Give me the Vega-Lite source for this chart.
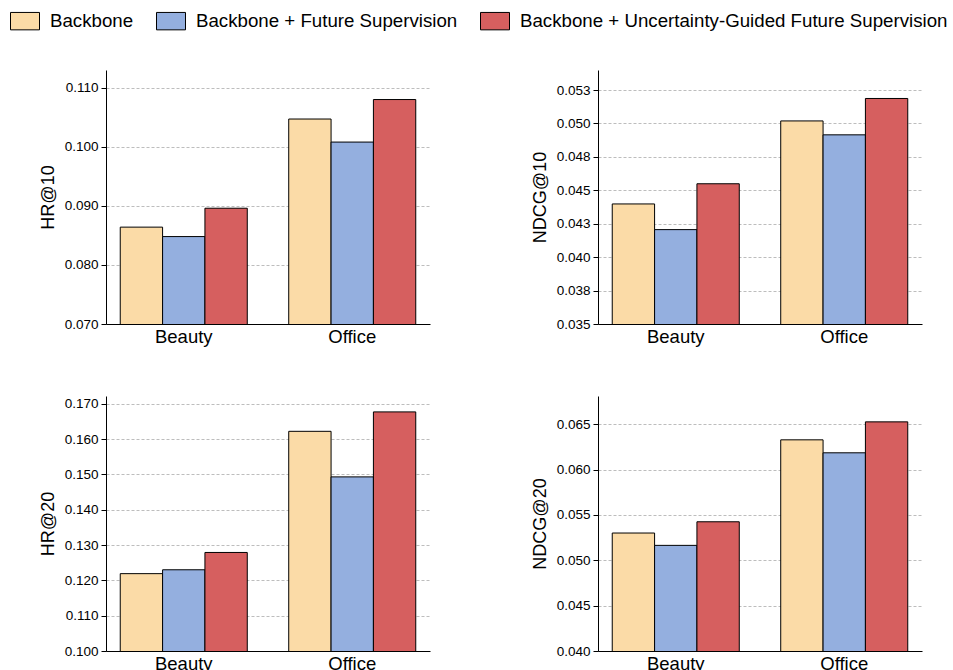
{
  "$schema": "https://vega.github.io/schema/vega-lite/v6.json",
  "background": "white",
  "padding": {"left": 10, "top": 6, "right": 5, "bottom": 5},
  "config": {
    "font": "Liberation Sans",
    "view": {"stroke": null},
    "axis": {
      "domainColor": "black",
      "domainWidth": 1,
      "tickColor": "black",
      "labelColor": "black",
      "titleColor": "black",
      "labelFont": "Liberation Sans",
      "titleFont": "Liberation Sans",
      "titleFontWeight": "normal"
    },
    "axisX": {"grid": false, "ticks": false, "labelFontSize": 18.5, "labelAngle": 0, "labelPadding": 3},
    "axisY": {"grid": true, "gridColor": "#bdbdbd", "gridDash": [3, 2], "gridWidth": 1, "tickSize": 5, "labelFontSize": 13.5, "labelPadding": 3, "titleFontSize": 18, "titlePadding": 7},
    "legend": {
      "orient": "none",
      "legendX": -96,
      "legendY": -64,
      "direction": "horizontal",
      "title": null,
      "labelFontSize": 18.7,
      "labelLimit": 0,
      "labelFont": "Liberation Sans",
      "labelColor": "black",
      "symbolType": "M-1,-0.6H1V0.6H-1Z",
      "symbolSize": 841,
      "symbolStrokeColor": "black",
      "symbolStrokeWidth": 1,
      "symbolOpacity": 1,
      "labelOffset": 10,
      "columnPadding": 20
    }
  },
  "data": {
    "values": [
      {"metric": "HR@10", "dataset": "Beauty", "method": "Backbone", "value": 0.0864},
      {"metric": "HR@10", "dataset": "Beauty", "method": "Backbone + Future Supervision", "value": 0.0848},
      {"metric": "HR@10", "dataset": "Beauty", "method": "Backbone + Uncertainty-Guided Future Supervision", "value": 0.0896},
      {"metric": "HR@10", "dataset": "Office", "method": "Backbone", "value": 0.1047},
      {"metric": "HR@10", "dataset": "Office", "method": "Backbone + Future Supervision", "value": 0.1008},
      {"metric": "HR@10", "dataset": "Office", "method": "Backbone + Uncertainty-Guided Future Supervision", "value": 0.1080},
      {"metric": "NDCG@10", "dataset": "Beauty", "method": "Backbone", "value": 0.04398},
      {"metric": "NDCG@10", "dataset": "Beauty", "method": "Backbone + Future Supervision", "value": 0.04206},
      {"metric": "NDCG@10", "dataset": "Beauty", "method": "Backbone + Uncertainty-Guided Future Supervision", "value": 0.04549},
      {"metric": "NDCG@10", "dataset": "Office", "method": "Backbone", "value": 0.05019},
      {"metric": "NDCG@10", "dataset": "Office", "method": "Backbone + Future Supervision", "value": 0.04915},
      {"metric": "NDCG@10", "dataset": "Office", "method": "Backbone + Uncertainty-Guided Future Supervision", "value": 0.05187},
      {"metric": "HR@20", "dataset": "Beauty", "method": "Backbone", "value": 0.1219},
      {"metric": "HR@20", "dataset": "Beauty", "method": "Backbone + Future Supervision", "value": 0.1230},
      {"metric": "HR@20", "dataset": "Beauty", "method": "Backbone + Uncertainty-Guided Future Supervision", "value": 0.1279},
      {"metric": "HR@20", "dataset": "Office", "method": "Backbone", "value": 0.1622},
      {"metric": "HR@20", "dataset": "Office", "method": "Backbone + Future Supervision", "value": 0.1493},
      {"metric": "HR@20", "dataset": "Office", "method": "Backbone + Uncertainty-Guided Future Supervision", "value": 0.1677},
      {"metric": "NDCG@20", "dataset": "Beauty", "method": "Backbone", "value": 0.0530},
      {"metric": "NDCG@20", "dataset": "Beauty", "method": "Backbone + Future Supervision", "value": 0.05164},
      {"metric": "NDCG@20", "dataset": "Beauty", "method": "Backbone + Uncertainty-Guided Future Supervision", "value": 0.05424},
      {"metric": "NDCG@20", "dataset": "Office", "method": "Backbone", "value": 0.06327},
      {"metric": "NDCG@20", "dataset": "Office", "method": "Backbone + Future Supervision", "value": 0.06184},
      {"metric": "NDCG@20", "dataset": "Office", "method": "Backbone + Uncertainty-Guided Future Supervision", "value": 0.06525}
    ]
  },
  "columns": 2,
  "spacing": {"row": 50, "column": 101},
  "concat": [
    {
      "width": 324, "height": 254,
      "transform": [{"filter": "datum.metric === 'HR@10'"}],
      "mark": {"type": "bar", "stroke": "black", "strokeWidth": 1, "clip": true},
      "encoding": {
        "x": {"field": "dataset", "type": "nominal", "scale": {"paddingInner": 0.246, "paddingOuter": 0.0845}, "axis": {"title": null}},
        "xOffset": {"field": "method", "type": "nominal", "sort": ["Backbone", "Backbone + Future Supervision", "Backbone + Uncertainty-Guided Future Supervision"], "scale": {"paddingInner": 0, "paddingOuter": 0}},
        "y": {"field": "value", "type": "quantitative", "scale": {"domain": [0.07, 0.113], "nice": false, "zero": false}, "axis": {"title": "HR@10", "values": [0.07, 0.08, 0.09, 0.1, 0.11], "labelExpr": "format(datum.value + 1e-9, '.3f')"}},
        "color": {"field": "method", "type": "nominal", "sort": ["Backbone", "Backbone + Future Supervision", "Backbone + Uncertainty-Guided Future Supervision"], "scale": {"domain": ["Backbone", "Backbone + Future Supervision", "Backbone + Uncertainty-Guided Future Supervision"], "range": ["#fbdba7", "#94afdf", "#d65f5f"]}}
      }
    },
    {
      "width": 324, "height": 254,
      "transform": [{"filter": "datum.metric === 'NDCG@10'"}],
      "mark": {"type": "bar", "stroke": "black", "strokeWidth": 1, "clip": true},
      "encoding": {
        "x": {"field": "dataset", "type": "nominal", "scale": {"paddingInner": 0.246, "paddingOuter": 0.0845}, "axis": {"title": null}},
        "xOffset": {"field": "method", "type": "nominal", "sort": ["Backbone", "Backbone + Future Supervision", "Backbone + Uncertainty-Guided Future Supervision"], "scale": {"paddingInner": 0, "paddingOuter": 0}},
        "y": {"field": "value", "type": "quantitative", "scale": {"domain": [0.035, 0.054], "nice": false, "zero": false}, "axis": {"title": "NDCG@10", "values": [0.035, 0.0375, 0.04, 0.0425, 0.045, 0.0475, 0.05, 0.0525], "labelExpr": "format(datum.value + 1e-9, '.3f')"}},
        "color": {"field": "method", "type": "nominal", "sort": ["Backbone", "Backbone + Future Supervision", "Backbone + Uncertainty-Guided Future Supervision"], "scale": {"domain": ["Backbone", "Backbone + Future Supervision", "Backbone + Uncertainty-Guided Future Supervision"], "range": ["#fbdba7", "#94afdf", "#d65f5f"]}}
      }
    },
    {
      "width": 324, "height": 255,
      "transform": [{"filter": "datum.metric === 'HR@20'"}],
      "mark": {"type": "bar", "stroke": "black", "strokeWidth": 1, "clip": true},
      "encoding": {
        "x": {"field": "dataset", "type": "nominal", "scale": {"paddingInner": 0.246, "paddingOuter": 0.0845}, "axis": {"title": null}},
        "xOffset": {"field": "method", "type": "nominal", "sort": ["Backbone", "Backbone + Future Supervision", "Backbone + Uncertainty-Guided Future Supervision"], "scale": {"paddingInner": 0, "paddingOuter": 0}},
        "y": {"field": "value", "type": "quantitative", "scale": {"domain": [0.1, 0.1722], "nice": false, "zero": false}, "axis": {"title": "HR@20", "values": [0.1, 0.11, 0.12, 0.13, 0.14, 0.15, 0.16, 0.17], "labelExpr": "format(datum.value + 1e-9, '.3f')"}},
        "color": {"field": "method", "type": "nominal", "sort": ["Backbone", "Backbone + Future Supervision", "Backbone + Uncertainty-Guided Future Supervision"], "scale": {"domain": ["Backbone", "Backbone + Future Supervision", "Backbone + Uncertainty-Guided Future Supervision"], "range": ["#fbdba7", "#94afdf", "#d65f5f"]}}
      }
    },
    {
      "width": 324, "height": 255,
      "transform": [{"filter": "datum.metric === 'NDCG@20'"}],
      "mark": {"type": "bar", "stroke": "black", "strokeWidth": 1, "clip": true},
      "encoding": {
        "x": {"field": "dataset", "type": "nominal", "scale": {"paddingInner": 0.246, "paddingOuter": 0.0845}, "axis": {"title": null}},
        "xOffset": {"field": "method", "type": "nominal", "sort": ["Backbone", "Backbone + Future Supervision", "Backbone + Uncertainty-Guided Future Supervision"], "scale": {"paddingInner": 0, "paddingOuter": 0}},
        "y": {"field": "value", "type": "quantitative", "scale": {"domain": [0.04, 0.0681], "nice": false, "zero": false}, "axis": {"title": "NDCG@20", "values": [0.04, 0.045, 0.05, 0.055, 0.06, 0.065], "labelExpr": "format(datum.value + 1e-9, '.3f')"}},
        "color": {"field": "method", "type": "nominal", "sort": ["Backbone", "Backbone + Future Supervision", "Backbone + Uncertainty-Guided Future Supervision"], "scale": {"domain": ["Backbone", "Backbone + Future Supervision", "Backbone + Uncertainty-Guided Future Supervision"], "range": ["#fbdba7", "#94afdf", "#d65f5f"]}}
      }
    }
  ]
}
